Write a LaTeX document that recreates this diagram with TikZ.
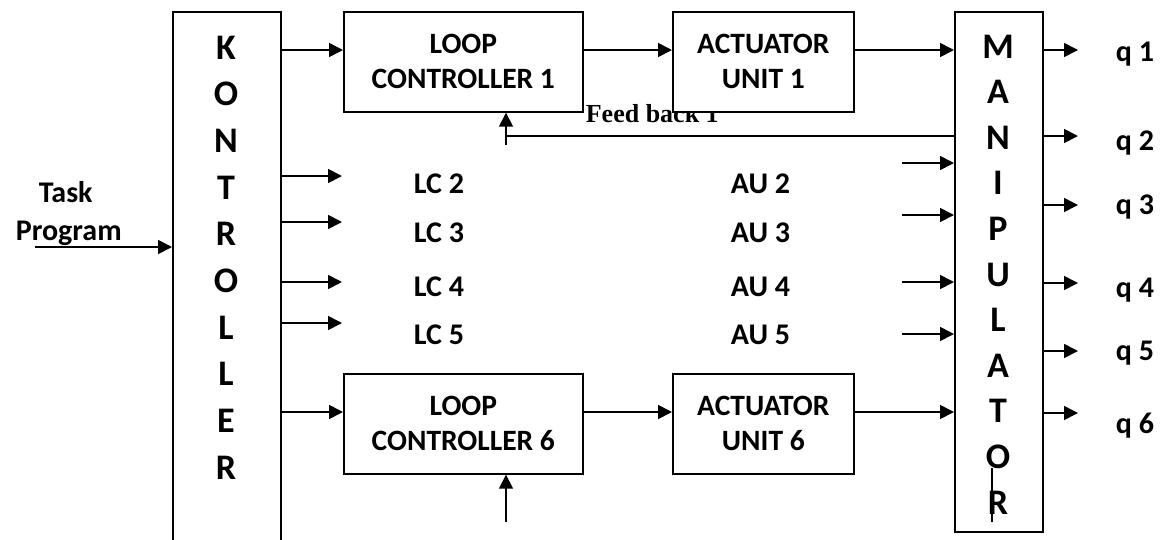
\documentclass[tikz,border=0pt]{standalone}
\usepackage{fontspec}
\setmainfont{Carlito}
\newfontfamily\tnr{Liberation Serif}
\usetikzlibrary{arrows.meta}
\begin{document}
\begin{tikzpicture}[x=1pt,y=-1pt, line width=1.7pt,
  box/.style={draw, fill=white, line width=1.7pt, inner sep=0pt, align=center,
    font=\bfseries\fontsize{29.5}{35}\selectfont},
  lbl/.style={font=\bfseries\fontsize{30}{32}\selectfont, inner sep=0pt, anchor=base west},
  big/.style={font=\bfseries\fontsize{36}{40}\selectfont, inner sep=0pt, anchor=base},
  arr/.style={-{Triangle[length=14pt,width=14pt]}, line width=1.7pt}]
\useasboundingbox (0,0) rectangle (1160,539);
% feedback label (behind boxes)
\node[font=\tnr\bfseries\fontsize{26}{30}\selectfont, inner sep=0pt, anchor=base west] (fbl) at (585,122) {Feed back 1};
% boxes
\node[box, minimum width=108pt, minimum height=545pt, anchor=north west] (kon) at (172,11) {};
\node[box, minimum width=88pt, minimum height=520pt, anchor=north west] (man) at (954,11) {};
\node[box, minimum width=239pt, minimum height=100pt, anchor=north west] (lc1) at (343,11) {LOOP\\CONTROLLER 1};
\node[box, minimum width=181pt, minimum height=100pt, anchor=north west] (au1) at (672,11) {ACTUATOR\\UNIT 1};
\node[box, minimum width=239pt, minimum height=100pt, anchor=north west] (lc6) at (343,373) {LOOP\\CONTROLLER 6};
\node[box, minimum width=181pt, minimum height=100pt, anchor=north west] (au6) at (672,373) {ACTUATOR\\UNIT 6};
% vertical letters
\foreach \c [count=\i from 0] in {K,O,N,T,R,O,L,L,E,R}
  \node[big] (k\i) at (226,{59+46.7*\i}) {\c};
\foreach \c [count=\i from 0] in {M,A,N,I,P,U,L,A,T,O,R}
  \node[big] (m\i) at (998,{58+45.6*\i}) {\c};
% middle labels
\node[lbl] (lc2) at (413,193) {LC 2};
\node[lbl] (lc3) at (413,242) {LC 3};
\node[lbl] (lc4) at (413,296) {LC 4};
\node[lbl] (lc5) at (413,344) {LC 5};
\node[lbl] (au2) at (730,193) {AU 2};
\node[lbl] (au3) at (730,242) {AU 3};
\node[lbl] (au4) at (730,296) {AU 4};
\node[lbl] (au5) at (730,344) {AU 5};
% task program
\node[lbl] (task) at (38,202) {Task};
\node[lbl] (prog) at (15,240) {Program};
% q labels
\node[lbl] (q1) at (1115,61) {q 1};
\node[lbl] (q2) at (1115,150) {q 2};
\node[lbl] (q3) at (1115,214) {q 3};
\node[lbl] (q4) at (1115,297) {q 4};
\node[lbl] (q5) at (1115,360) {q 5};
\node[lbl] (q6) at (1115,433) {q 6};
% level coordinates
\coordinate (y1) at (0,50);
\coordinate (y6) at (0,412);
\coordinate (tp) at (35,247);
\coordinate (l2) at (342,176);
\coordinate (l3) at (342,222);
\coordinate (l4) at (342,282);
\coordinate (l5) at (342,323);
\coordinate (i2) at (902,163);
\coordinate (i3) at (902,215);
\coordinate (i4) at (902,282);
\coordinate (i5) at (902,334);
\coordinate (o1) at (1078,50);
\coordinate (o2) at (1078,136);
\coordinate (o3) at (1078,205);
\coordinate (o4) at (1078,283);
\coordinate (o5) at (1078,351);
\coordinate (o6) at (1078,413);
\coordinate (fbx) at (506,145);
\coordinate (fby) at (0,136);
\coordinate (fb6) at (506,522);
\coordinate (s1) at (992,468);
\coordinate (s2) at (992,522);
% connectors
\draw[arr] (tp) -- (tp -| kon.west);
\draw[arr] (kon.east |- y1) -- (lc1.west |- y1);
\draw[arr] (lc1.east |- y1) -- (au1.west |- y1);
\draw[arr] (au1.east |- y1) -- (man.west |- y1);
\draw[arr] (kon.east |- y6) -- (lc6.west |- y6);
\draw[arr] (lc6.east |- y6) -- (au6.west |- y6);
\draw[arr] (au6.east |- y6) -- (man.west |- y6);
\foreach \p in {l2,l3,l4,l5} \draw[arr] (kon.east |- \p) -- (\p);
\foreach \p in {i2,i3,i4,i5} \draw[arr] (\p) -- (man.west |- \p);
\foreach \p in {o1,o2,o3,o4,o5,o6} \draw[arr] (man.east |- \p) -- (\p);
\draw (man.west |- fby) -- (fbx |- fby);
\draw[arr] (fbx) -- (fbx |- lc1.south);
\draw[arr] (fb6) -- (fb6 |- lc6.south);
\draw (s1) -- (s2);
\end{tikzpicture}
\end{document}
